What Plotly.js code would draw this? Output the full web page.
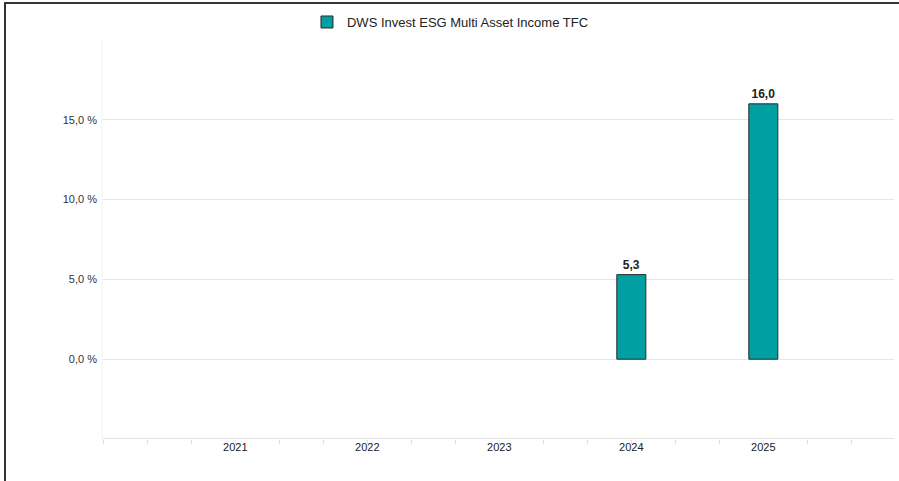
<!DOCTYPE html>
<html>
<head>
<meta charset="utf-8">
<script src="https://cdn.plot.ly/plotly-3.0.1.min.js"></script>
<style>
  html, body { margin: 0; padding: 0; background: #fff; }
  #wrap { position: relative; width: 899px; height: 481px; overflow: hidden; }
  #chart { position: absolute; left: 0; top: 0; width: 899px; height: 481px; }
  #frame { position: absolute; left: 4px; top: 2px; width: 900px; height: 490px;
           border-left: 2px solid #333; border-top: 2px solid #333; pointer-events: none; }
</style>
</head>
<body>
<div id="wrap">
  <div id="chart"></div>
  <div id="frame"></div>
</div>
<script>
const seriesName = 'DWS Invest ESG Multi Asset Income TFC';
const years = [2021, 2022, 2023, 2024, 2025];
const yearLabels = ['2021', '2022', '2023', '2024', '2025'];
const values = [null, null, null, 5.3, 16.0];
const valueLabels = ['', '', '', '5,3', '16,0'];
const yTickVals = [-5, 0, 5, 10, 15, 20];
const yTickText = ['', '0,0 %', '5,0 %', '10,0 %', '15,0 %', ''];

const trace = {
  type: 'bar',
  name: seriesName,
  x: years,
  y: values,
  width: 0.22,
  text: valueLabels,
  textposition: 'outside',
  cliponaxis: false,
  textfont: { family: 'Liberation Sans, Arial, sans-serif', size: 12, color: '#222', weight: 'bold' },
  marker: { color: '#009fa1', line: { color: '#2a2a2a', width: 1 } },
  hoverinfo: 'skip',
  showlegend: true
};

const layout = {
  width: 899,
  height: 481,
  margin: { l: 102, r: 5, t: 40, b: 42, pad: 0 },
  paper_bgcolor: '#ffffff',
  plot_bgcolor: '#ffffff',
  font: { family: 'Liberation Sans, Arial, sans-serif', size: 11, color: '#333' },
  showlegend: true,
  legend: {
    orientation: 'h',
    x: 0.44, xanchor: 'center',
    y: 1.045, yanchor: 'middle',
    font: { family: 'Liberation Sans, Arial, sans-serif', size: 13, color: '#222' },
    itemwidth: 30,
    bgcolor: 'rgba(0,0,0,0)'
  },
  xaxis: {
    type: 'linear',
    range: [2019.99, 2025.99],
    tickvals: years,
    ticktext: yearLabels,
    ticks: '',
    ticklen: 0,
    showgrid: false,
    zeroline: false,
    showline: false,
    tickfont: { size: 11, color: '#222' },
    minor: { tick0: 2020, dtick: 1/3, ticks: 'outside', ticklen: 4, tickcolor: '#e0e0e0', tickwidth: 1, showgrid: false }
  },
  yaxis: {
    range: [-5, 20],
    tickvals: yTickVals,
    ticktext: yTickText,
    showgrid: true,
    gridcolor: '#e6e6e6',
    gridwidth: 1,
    zeroline: false,
    showline: false,
    ticks: '',
    ticklabelstandoff: 4,
    tickfont: { size: 11, color: '#333' }
  },
  shapes: [
    { type: 'line', xref: 'paper', yref: 'y', x0: 0, x1: 1, y0: -5, y1: -5,
      line: { color: '#e4e4e4', width: 2 } },
    { type: 'line', xref: 'paper', yref: 'paper', x0: 0, x1: 0, y0: 0, y1: 1,
      line: { color: '#f2f2f2', width: 1 } }
  ]
};

Plotly.newPlot('chart', [trace], layout, { displayModeBar: false, staticPlot: true });
</script>
</body>
</html>
